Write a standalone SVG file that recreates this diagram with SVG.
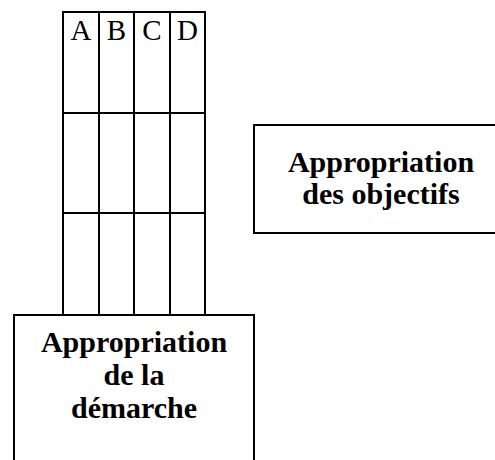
<svg xmlns="http://www.w3.org/2000/svg" width="495" height="460" viewBox="0 0 495 460">
  <style>
    .ln { stroke: #000; stroke-width: 2; fill: none; }
    .box { stroke: #000; stroke-width: 2; fill: #fff; }
    .hd { font-family: "Liberation Serif", "Times New Roman", serif; font-size: 29px; fill: #000; text-anchor: middle; }
    .bt { font-family: "Liberation Serif", "Times New Roman", serif; font-size: 30px; font-weight: bold; fill: #000; text-anchor: middle; }
  </style>
  <rect width="495" height="460" fill="#fff"/>
  <g id="grid">
    <rect class="ln" x="63" y="12" width="142" height="303"/>
    <line class="ln" x1="99" y1="12" x2="99" y2="315"/>
    <line class="ln" x1="134" y1="12" x2="134" y2="315"/>
    <line class="ln" x1="170" y1="12" x2="170" y2="315"/>
    <line class="ln" x1="63" y1="113" x2="205" y2="113"/>
    <line class="ln" x1="63" y1="213" x2="205" y2="213"/>
    <text class="hd" x="81" y="40">A</text>
    <text class="hd" x="116.5" y="40">B</text>
    <text class="hd" x="152" y="40">C</text>
    <text class="hd" x="187.5" y="40">D</text>
  </g>
  <g id="demarche">
    <rect class="box" x="14" y="315" width="240" height="160"/>
    <text class="bt" x="134" y="352">Appropriation</text>
    <text class="bt" x="134" y="385">de la</text>
    <text class="bt" x="134" y="418">démarche</text>
  </g>
  <g id="objectifs">
    <rect class="box" x="254" y="125" width="260" height="108"/>
    <text class="bt" x="381" y="172">Appropriation</text>
    <text class="bt" x="381" y="204">des objectifs</text>
  </g>
  <g id="connectors"/>
</svg>
